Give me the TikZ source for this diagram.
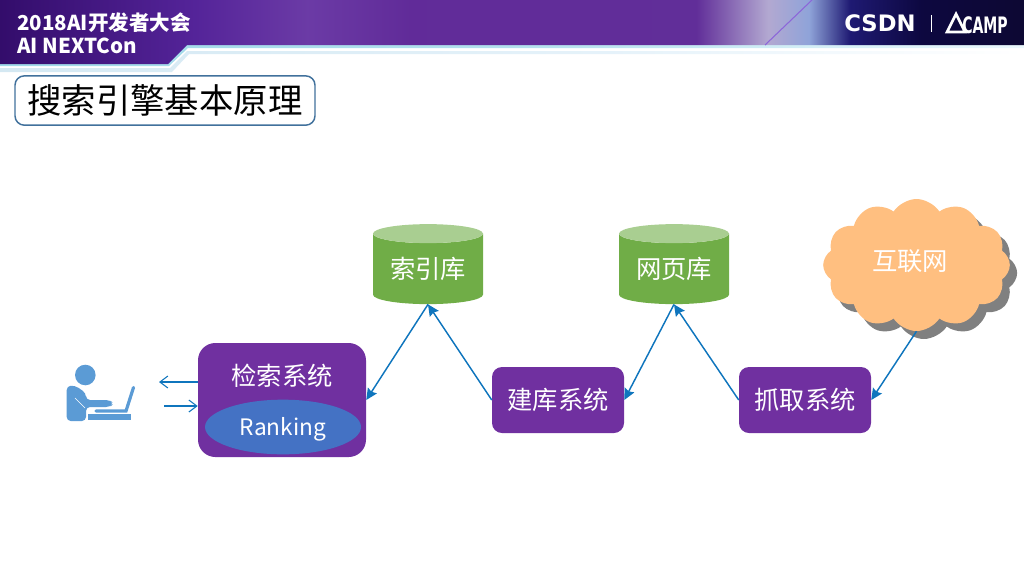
\documentclass[tikz,border=0pt]{standalone}
\usepackage{fontspec}
\setmainfont{Noto Sans CJK SC}
\newfontfamily\logofont{DejaVu Sans}
\usepackage{tikz}
\usetikzlibrary{calc,shapes.geometric,shapes.symbols,arrows.meta,shadows}
\definecolor{sysc}{HTML}{7030A0}
\definecolor{rankc}{HTML}{4472C4}
\definecolor{dbc}{HTML}{70AD47}
\definecolor{dbtopc}{HTML}{A9CE91}
\definecolor{cloudc}{HTML}{FFBF80}
\definecolor{shadowc}{HTML}{808080}
\definecolor{arrc}{HTML}{0F75BD}
\definecolor{userc}{HTML}{5B9BD5}
\definecolor{titlec}{HTML}{41719C}
\pgfdeclarehorizontalshading{bannershade}{100bp}{
  rgb(0bp)=(.20,.05,.42);
  rgb(25bp)=(.20,.05,.42);
  rgb(34.5bp)=(.33,.14,.60);
  rgb(40bp)=(.42,.23,.65);
  rgb(45bp)=(.38,.17,.60);
  rgb(59bp)=(.38,.18,.60);
  rgb(62.5bp)=(.70,.66,.82);
  rgb(64.5bp)=(.56,.64,.85);
  rgb(66.5bp)=(.12,.10,.45);
  rgb(70bp)=(.05,.03,.25);
  rgb(75bp)=(.05,.03,.20);
  rgb(100bp)=(.05,.03,.20)
}
\pgfdeclarehorizontalshading{stripeshade}{100bp}{
  rgb(0bp)=(.62,.85,.91);
  rgb(25bp)=(.62,.85,.91);
  rgb(50bp)=(.70,.88,.93);
  rgb(75bp)=(.92,.97,.99);
  rgb(100bp)=(.92,.97,.99)
}
\pgfdeclarehorizontalshading{paleshade}{100bp}{
  rgb(0bp)=(.83,.91,.95);
  rgb(25bp)=(.83,.91,.95);
  rgb(55bp)=(.90,.95,.98);
  rgb(75bp)=(1,1,1);
  rgb(100bp)=(1,1,1)
}
\tikzstyle{sys}=[rectangle, rounded corners=7.5pt, minimum width=99pt, minimum height=49.5pt, fill=sysc, text=white, inner sep=0pt, font=\fontsize{19pt}{19pt}\selectfont]
\tikzstyle{db}=[cylinder, shape border rotate=90, aspect=0.25, minimum width=82.5pt, minimum height=60pt, cylinder uses custom fill, cylinder body fill=dbc, cylinder end fill=dbtopc, text=white, inner sep=0pt, font=\fontsize{19pt}{19pt}\selectfont]
\tikzstyle{link}=[arrc, line width=1.1pt, -{Stealth[length=8.5pt,width=8pt,inset=1.2pt]}]
\tikzstyle{userlink}=[arrc, line width=.8pt, -{Straight Barb[length=6pt,width=9pt]}]
\tikzstyle{logo}=[text=white, inner sep=0pt, font=\logofont\bfseries\fontsize{17pt}{17pt}\selectfont]
\begin{document}
\begin{tikzpicture}[x=.75pt,y=-.75pt]
    \useasboundingbox (0,0) rectangle (1024,576);
    % banner
    \shade[shading=paleshade] (0,68) -- (170,68) -- (187,51) -- (1024,51) -- (1024,54) -- (189,54) -- (172,72) -- (0,72) -- cycle;
    \shade[shading=stripeshade] (0,63) -- (167,63) -- (186,44) -- (1024,44) -- (1024,48) -- (188,48) -- (169,66) -- (0,66) -- cycle;
    \shade[shading=bannershade] (0,0) -- (1024,0) -- (1024,45) -- (187,45) -- (168,64) -- (0,64) -- cycle;
    \draw[violet!50!blue!60, line width=.8pt] (812,0) -- (765,45);
    \node[logo, anchor=west, font=\bfseries\fontsize{15.4pt}{15.4pt}\selectfont] (conf) at (17,23) {2018AI开发者大会};
    \node[logo, anchor=west, font=\bfseries\fontsize{15.4pt}{15.4pt}\selectfont] (next) at (17,46) {AI NEXTCon};
    \node[logo] (csdn) at (880,23) {CSDN};
    \draw[white, line width=.6pt] (931,15) -- (931,32);
    \draw[white, line width=2pt] (956,14) -- (947,32) -- (965,32) -- cycle;
    \node[logo, xscale=.62] (camp) at (985,25) {CAMP};
    % title
    \node[rectangle, rounded corners=7pt, draw=titlec, line width=1.1pt, fill=white, minimum width=225pt, minimum height=37pt, inner sep=0pt, font=\fontsize{25.8pt}{25.8pt}\selectfont] (title) at (165,100.5) {搜索引擎基本原理};
    % user
    \fill[userc] (85.3,375) circle (10.3);
    \fill[userc, rounded corners=3pt] (66.7,421) -- (66.7,386) -- (75,385.5) -- (86,393) -- (86,400) -- (110,400) -- (113.5,403.5) -- (110,407) -- (86,407) -- (86,421) -- cycle;
    \draw[white, line width=.5pt] (75,398) -- (85,408);
    \draw[userc, line width=2.4pt, line cap=round] (133.5,387.5) -- (126,411) -- (96,411);
    \draw[userc, line width=4.5pt] (88,416.7) -- (131,416.7);
    % stores
    \node[sys, minimum width=126pt, minimum height=85.5pt, rounded corners=13pt] (search) at (282,400) {};
    \node[anchor=center, text=white, inner sep=0pt, font=\fontsize{19pt}{19pt}\selectfont] (searchtext) at (282,376) {检索系统};
    \node[ellipse, fill=rankc, minimum width=117pt, minimum height=41pt, inner sep=0pt, text=white, text height=13pt, text depth=1pt, font=\fontsize{17pt}{17pt}\selectfont] (rank) at (283,427) {Ranking};
    \node[sys] (build) at (558,400) {建库系统};
    \node[sys] (fetch) at (805,400) {抓取系统};
    \node[db] (index) at (428,269) {索引库};
    \node[db] (pages) at (674,269) {网页库};
    \node[cloud, cloud puffs=12, cloud puff arc=115, aspect=1.42, minimum width=140pt, minimum height=99pt, inner sep=0pt, fill=cloudc, drop shadow={shadow xshift=5.5pt, shadow yshift=-6pt, fill=shadowc, opacity=1}] (web) at (916.5,265) {};
    \node[text=white, inner sep=0pt, font=\fontsize{19pt}{19pt}\selectfont] (webtext) at (910,261) {互联网};
    % links
    \foreach \from/\to in {index.south/search.east, build.west/index.south, pages.south/build.east, fetch.west/pages.south, web.south/fetch.east}
        \draw[link] (\from) -- (\to);
    \coordinate (userout) at (159,382);
    \coordinate (userin) at (164,406);
    \draw[userlink] ($(search.west)+(0,-18)$) -- (userout);
    \draw[userlink] (userin) -- ($(search.west)+(0,6)$);
\end{tikzpicture}
\end{document}
